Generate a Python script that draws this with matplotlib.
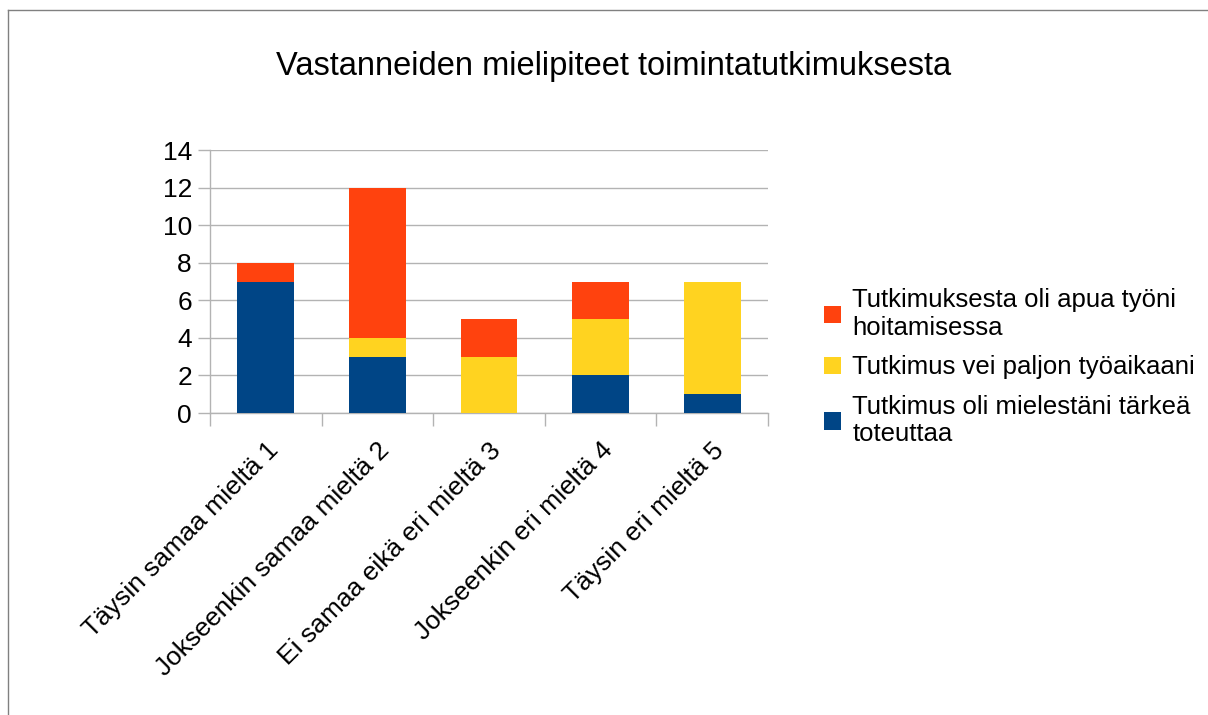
import matplotlib
matplotlib.use("Agg")
import matplotlib.pyplot as plt
from matplotlib.lines import Line2D
from matplotlib.patches import Patch
import numpy as np

plt.rcParams['font.family'] = ['Liberation Sans', 'DejaVu Sans']

title = "Vastanneiden mielipiteet toimintatutkimuksesta"
categories = ["Täysin samaa mieltä 1", "Jokseenkin samaa mieltä 2",
              "Ei samaa eikä eri mieltä 3", "Jokseenkin eri mieltä 4",
              "Täysin eri mieltä 5"]
series_names = ["Tutkimus oli mielestäni tärkeä\ntoteuttaa",
                "Tutkimus vei paljon työaikaani",
                "Tutkimuksesta oli apua työni\nhoitamisessa"]
tarkea = [7, 3, 0, 2, 1]
tyoaika = [0, 1, 3, 3, 6]
apua = [1, 8, 2, 2, 0]
colors = ["#004586", "#ffd320", "#ff420e"]
yticks = [0, 2, 4, 6, 8, 10, 12, 14]

W, H = 1208, 715
fig = plt.figure(figsize=(W / 100, H / 100), dpi=100)
ax = fig.add_axes([210 / W, 1 - 413 / H, (768 - 210) / W, (413 - 150) / H])

x = np.arange(len(categories))
bottom = np.zeros(len(categories))
handles = []
for vals, name, c in zip([tarkea, tyoaika, apua], series_names, colors):
    ax.bar(x, vals, width=0.51, bottom=bottom, color=c, label=name, zorder=3)
    bottom += np.array(vals)
    handles.append(Patch(facecolor=c, label=name))

ax.set_xlim(-0.5, len(categories) - 0.5)
ax.set_ylim(0, 14)
ax.set_yticks(yticks)
ax.set_yticklabels([str(v) for v in yticks], fontsize=19)
ax.yaxis.grid(True, color="#b3b3b3", linewidth=1, zorder=0)
ax.set_axisbelow(True)

ax.set_xticks(x)
ax.set_xticklabels(categories, rotation=45, ha="right", rotation_mode="anchor", fontsize=19)
ax.tick_params(axis="x", length=0, pad=18)
ax.set_xticks(np.arange(-0.5, len(categories), 1), minor=True)
ax.tick_params(axis="x", which="minor", length=9, color="#b3b3b3", width=1)
ax.tick_params(axis="y", length=9, color="#b3b3b3", width=1, pad=4)

for s in ["top", "right"]:
    ax.spines[s].set_visible(False)
for s in ["left", "bottom"]:
    ax.spines[s].set_color("#b3b3b3")
    ax.spines[s].set_linewidth(1)

fig.text(614 / W, 1 - 67 / H, title, ha="center", va="center", fontsize=23.5)

fig.legend(handles=handles[::-1], loc="upper left",
           bbox_to_anchor=(824 / W, 1 - 288 / H), frameon=False, fontsize=18.5,
           handlelength=0.65, handleheight=0.65, handletextpad=0.45,
           labelspacing=0.6, borderaxespad=0, borderpad=0)

fig.add_artist(Line2D([8 / W, 1], [1 - 10 / H, 1 - 10 / H], transform=fig.transFigure,
                      color="#808080", linewidth=1))
fig.add_artist(Line2D([8 / W, 8 / W], [0, 1 - 10 / H], transform=fig.transFigure,
                      color="#808080", linewidth=1))

fig.savefig("out.png", dpi=100)
